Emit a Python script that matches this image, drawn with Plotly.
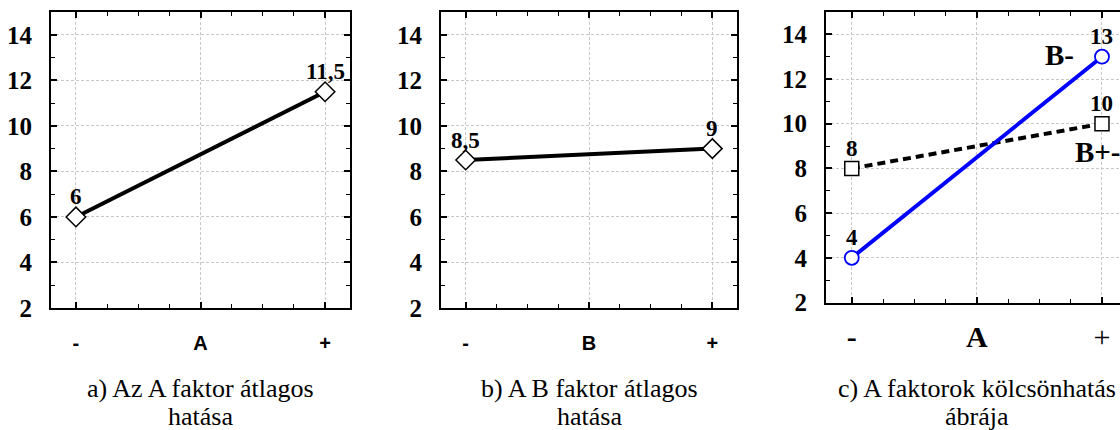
import plotly.graph_objects as go

# ---- data ----
levels = [0, 1]                      # "-" and "+" factor levels
x_tick_vals = [0, 0.5, 1]
ticks_a = ["-", "A", "+"]
ticks_b = ["-", "B", "+"]
ticks_c = ["<b>-</b>", "<b>A</b>", "+"]
y_tick_vals = [2, 4, 6, 8, 10, 12, 14]
mean_a = [6, 11.5]
mean_b = [8.5, 9]
b_minus = [4, 13]
b_plusminus = [8, 10]
captions_a = ["a) Az A faktor átlagos", "hatása"]
captions_b = ["b) A B faktor átlagos", "hatása"]
captions_c = ["c) A faktorok kölcsönhatás", "ábrája"]


def fmt(v):
    return f"{v:g}".replace(".", ",")


SERIF = "Liberation Serif"
SANS = "Liberation Sans"
H = 430.0


def ypaper(px):
    return 1 - px / H


fig = go.Figure()

fig.add_trace(go.Scatter(
    x=levels, y=mean_a, mode="lines+markers",
    line=dict(color="black", width=4),
    marker=dict(symbol="diamond", size=15, color="white", line=dict(color="black", width=1.5)),
    xaxis="x", yaxis="y", showlegend=False, cliponaxis=False))

fig.add_trace(go.Scatter(
    x=levels, y=mean_b, mode="lines+markers",
    line=dict(color="black", width=4),
    marker=dict(symbol="diamond", size=15, color="white", line=dict(color="black", width=1.5)),
    xaxis="x2", yaxis="y2", showlegend=False, cliponaxis=False))

fig.add_trace(go.Scatter(
    x=levels, y=b_plusminus, mode="lines+markers",
    line=dict(color="black", width=4, dash="8px,5px"),
    marker=dict(symbol="square", size=14, color="white", line=dict(color="black", width=1.5)),
    xaxis="x3", yaxis="y3", showlegend=False, cliponaxis=False))

fig.add_trace(go.Scatter(
    x=levels, y=b_minus, mode="lines+markers",
    line=dict(color="#0000ff", width=4),
    marker=dict(symbol="circle", size=14, color="white", line=dict(color="#0000ff", width=1.8)),
    xaxis="x3", yaxis="y3", showlegend=False, cliponaxis=False))


def xaxis(domain, rng, ticktext, font, anchor, standoff):
    return dict(
        domain=domain, range=rng, anchor=anchor,
        tickmode="array", tickvals=x_tick_vals, ticktext=ticktext,
        ticks="inside", ticklen=6, tickwidth=1.5, tickcolor="black",
        showline=True, linewidth=2, linecolor="black", mirror="ticks",
        showgrid=True, gridcolor="#c8c8c8", griddash="3px,2px", gridwidth=1,
        zeroline=False, tickfont=font, ticklabelstandoff=standoff,
        minor=dict(tickmode="linear", tick0=0, dtick=0.125, ticks="inside",
                   ticklen=4, tickwidth=1, tickcolor="black", showgrid=False),
    )


def yaxis(domain, anchor, mirror):
    return dict(
        domain=domain, range=[2, 15], anchor=anchor,
        tickmode="array", tickvals=y_tick_vals,
        ticktext=[f"<b>{v}</b>" for v in y_tick_vals],
        ticks="inside", ticklen=6, tickwidth=1.5, tickcolor="black",
        showline=True, linewidth=2, linecolor="black", mirror=mirror,
        showgrid=True, gridcolor="#c8c8c8", griddash="3px,2px", gridwidth=1,
        zeroline=False, ticklabelstandoff=12,
        tickfont=dict(family=SERIF, size=25, color="black"),
        minor=dict(tickmode="linear", tick0=1, dtick=1, ticks="inside",
                   ticklen=4, tickwidth=1, tickcolor="black", showgrid=False),
    )


sans_bold = dict(family=SANS, size=20, color="black", weight="bold")
serif_big = dict(family=SERIF, size=30, color="black")

yd12 = [ypaper(308), ypaper(12)]
yd3 = [ypaper(302.5), ypaper(12)]

fig.update_layout(
    width=1120, height=430,
    margin=dict(l=0, r=0, t=0, b=0, pad=0, autoexpand=False),
    paper_bgcolor="white", plot_bgcolor="white",
    xaxis=xaxis([51 / 1120, 350 / 1120], [-0.1, 1.1], ticks_a, sans_bold, "y", 16),
    yaxis=yaxis(yd12, "x", "ticks"),
    xaxis2=xaxis([441 / 1120, 737 / 1120], [-0.1, 1.1], ticks_b, sans_bold, "y2", 16),
    yaxis2=yaxis(yd12, "x2", "ticks"),
    xaxis3=xaxis([826 / 1120, 1.0], [-0.103, 1.072], ticks_c, serif_big, "y3", 6),
    yaxis3=yaxis(yd3, "x3", False),
)

annots = []

# value labels above the points
lbl_font = dict(family=SERIF, size=23, color="black")
for xr, yr, vals in (("x", "y", mean_a), ("x2", "y2", mean_b),
                     ("x3", "y3", b_minus), ("x3", "y3", b_plusminus)):
    for xv, yv in zip(levels, vals):
        annots.append(dict(xref=xr, yref=yr, x=xv, y=yv, text=f"<b>{fmt(yv)}</b>",
                           showarrow=False, xanchor="center", yanchor="middle",
                           yshift=20, font=lbl_font))

# captions
cap_font = dict(family=SERIF, size=26, color="black")
for xr, caps in (("x", captions_a), ("x2", captions_b), ("x3", captions_c)):
    for i, line in enumerate(caps):
        annots.append(dict(xref=xr, yref="paper", x=0.5, y=ypaper(388 + 28 * i),
                           text=line, showarrow=False, xanchor="center", yanchor="middle",
                           font=cap_font))

series_font = dict(family=SERIF, size=29, color="black")
annots.append(dict(xref="x3", yref="y3", x=0.83, y=13.07, text="<b>B-</b>", showarrow=False,
                   xanchor="center", yanchor="middle", font=series_font))
annots.append(dict(xref="x3", yref="y3", x=0.885, y=8.72, text="<b>B+-</b>", showarrow=False,
                   xanchor="left", yanchor="middle", font=series_font))

fig.update_layout(annotations=annots)
fig.write_html("out.html")
